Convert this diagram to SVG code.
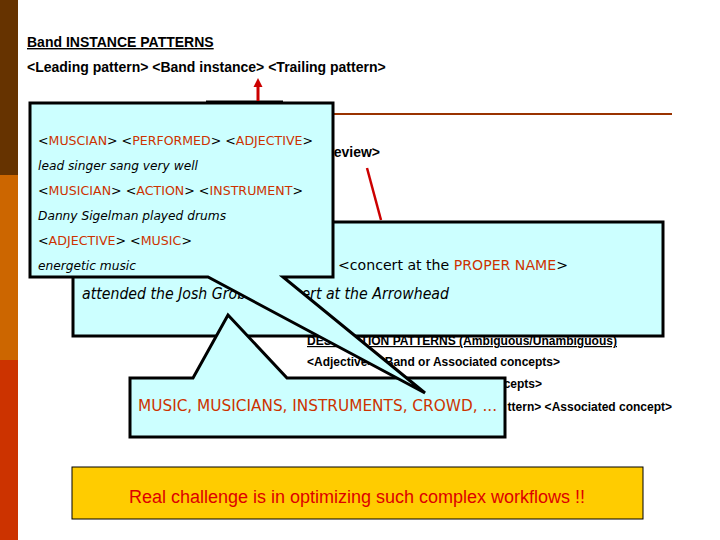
<svg xmlns="http://www.w3.org/2000/svg" width="720" height="540" viewBox="0 0 720 540">
<style>
.ar{font-family:"Liberation Sans",Arial,sans-serif;font-weight:bold;fill:#000}
.th{font-family:"DejaVu Sans Condensed","DejaVu Sans",sans-serif;fill:#000}
.it{font-style:italic}
.o{fill:#CC3300}
.cal{fill:#CCFFFF;stroke:#000;stroke-width:3;stroke-linejoin:miter}
</style>
<rect width="720" height="540" fill="#fff"/>
<g id="sidebar">
<rect x="0" y="0" width="18" height="175" fill="#663300"/>
<rect x="0" y="175" width="18" height="185" fill="#CC6600"/>
<rect x="0" y="360" width="18" height="180" fill="#CC3300"/>
</g>
<g id="band-patterns">
<text class="ar" x="27" y="47" font-size="14" text-decoration="underline">Band INSTANCE PATTERNS</text>
<text class="ar" x="27" y="72" font-size="14">&lt;Leading pattern&gt; &lt;Band instance&gt; &lt;Trailing pattern&gt;</text>
<text class="ar" x="380" y="157" font-size="14" text-anchor="end">eview&gt;</text>
</g>
<g id="description-patterns">
<text class="ar" x="307" y="345" font-size="12" text-decoration="underline" textLength="310" lengthAdjust="spacingAndGlyphs">DESCRIPTION PATTERNS (Ambiguous/Unambiguous)</text>
<text class="ar" x="307" y="366" font-size="12">&lt;Adjective&gt; &lt;Band or Associated concepts&gt;</text>
<text class="ar" x="542" y="388" font-size="12" text-anchor="end">cepts&gt;</text>
<text class="ar" x="672" y="411" font-size="12" text-anchor="end">ttern&gt; &lt;Associated concept&gt;</text>
</g>
<g id="connectors">
<line x1="333" y1="114" x2="672" y2="114" stroke="#993300" stroke-width="2"/>
<line x1="206" y1="101.5" x2="283" y2="101.5" stroke="#000" stroke-width="2"/>
<line x1="258" y1="101" x2="258" y2="85" stroke="#CC0000" stroke-width="3"/>
<polygon points="258,78 253.5,87 262.5,87" fill="#CC0000"/>
<line x1="367" y1="168" x2="381" y2="220" stroke="#CC0000" stroke-width="2.5"/>
</g>
<g id="concert-box">
<rect x="73" y="222" width="590" height="114" class="cal"/>
<text class="th" x="338" y="270" font-size="14.5" textLength="230" lengthAdjust="spacingAndGlyphs">&lt;concert at the <tspan class="o">PROPER NAME</tspan>&gt;</text>
<text class="th it" x="82" y="299" font-size="15" textLength="367" lengthAdjust="spacingAndGlyphs">attended the Josh Groban concert at the Arrowhead</text>
</g>
<g id="concepts-callout">
<path class="cal" d="M130,378 H193 L228,315 L287,378 H505 V437 H130 Z"/>
<text class="th o" x="138" y="411" font-size="16" textLength="359" lengthAdjust="spacingAndGlyphs">MUSIC, MUSICIANS, INSTRUMENTS, CROWD, ...</text>
</g>
<g id="examples-callout">
<path class="cal" d="M30,103 H333 V277 H283 L425,393 L208,277 H30 Z"/>
<text class="th" x="38" y="145" font-size="13" textLength="275" lengthAdjust="spacingAndGlyphs">&lt;<tspan class="o">MUSCIAN</tspan>&gt; &lt;<tspan class="o">PERFORMED</tspan>&gt; &lt;<tspan class="o">ADJECTIVE</tspan>&gt;</text>
<text class="th it" x="38" y="170" font-size="13" textLength="160" lengthAdjust="spacingAndGlyphs">lead singer sang very well</text>
<text class="th" x="38" y="195" font-size="13" textLength="265" lengthAdjust="spacingAndGlyphs">&lt;<tspan class="o">MUSICIAN</tspan>&gt; &lt;<tspan class="o">ACTION</tspan>&gt; &lt;<tspan class="o">INSTRUMENT</tspan>&gt;</text>
<text class="th it" x="38" y="220" font-size="13" textLength="188" lengthAdjust="spacingAndGlyphs">Danny Sigelman played drums</text>
<text class="th" x="38" y="245" font-size="13" textLength="154" lengthAdjust="spacingAndGlyphs">&lt;<tspan class="o">ADJECTIVE</tspan>&gt; &lt;<tspan class="o">MUSIC</tspan>&gt;</text>
<text class="th it" x="38" y="270" font-size="13" textLength="98" lengthAdjust="spacingAndGlyphs">energetic music</text>
</g>
<g id="challenge-box">
<rect x="72" y="467" width="571" height="52" fill="#FFCC00" stroke="#000" stroke-width="1"/>
<text x="357" y="503" font-family="Liberation Sans,Arial,sans-serif" font-size="18" fill="#DD0000" text-anchor="middle">Real challenge is in optimizing such complex workflows !!</text>
</g>
</svg>
